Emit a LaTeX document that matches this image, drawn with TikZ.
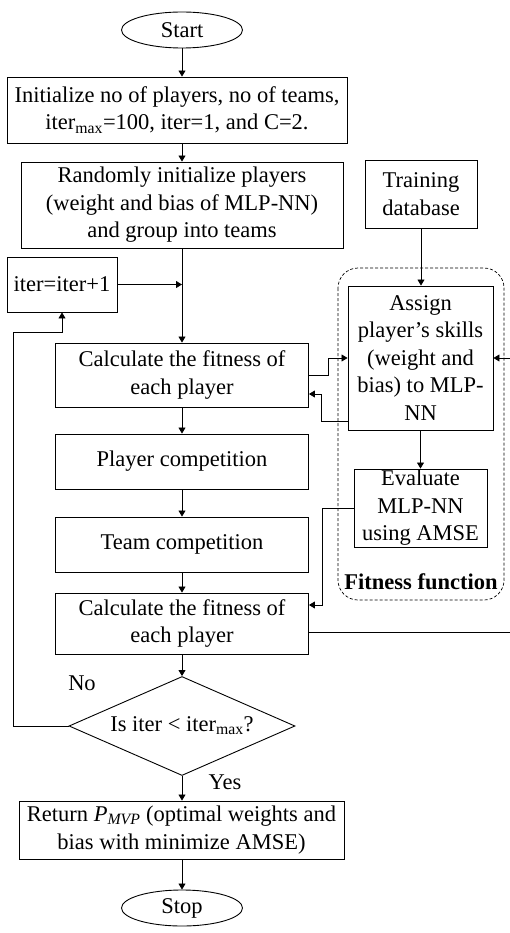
\documentclass[tikz,border=0pt]{standalone}
\usepackage{fontspec}
\setmainfont{Liberation Serif}
\usetikzlibrary{shapes.geometric,arrows.meta}
\begin{document}
\begin{tikzpicture}[x=1pt,y=-1pt,
  every node/.style={font=\fontsize{22.5}{27.5}\selectfont},
  box/.style={draw,line width=0.9pt,inner sep=0pt,align=center},
  term/.style={draw,ellipse,line width=0.9pt,inner sep=0pt,minimum width=121pt,minimum height=36pt},
  dec/.style={draw,diamond,line width=0.9pt,inner sep=0pt,minimum width=226pt,minimum height=99pt,aspect=2.3},
  arr/.style={line width=0.8pt,-{Triangle[length=6pt,width=7pt]}},
  ln/.style={line width=0.8pt}]
\useasboundingbox (0,0) rectangle (510,933);
% dashed group
\draw[line width=0.7pt,dash pattern=on 3pt off 2pt,rounded corners=20pt] (338,268) rectangle (504,600);
\node (fitlbl) at (421,582) {\textbf{Fitness function}};
% nodes
\node[term] (start) at (182,30) {Start};
\node[box,minimum width=340pt,minimum height=66pt] (init) at (177,110) {Initialize no of players, no of teams,\\iter\textsubscript{max}=100, iter=1, and C=2.};
\node[box,minimum width=322pt,minimum height=86pt] (rand) at (182,205) {Randomly initialize players\\(weight and bias of MLP-NN)\\and group into teams};
\node[box,minimum width=112pt,minimum height=68pt] (train) at (421,194) {Training\\database};
\node[box,minimum width=110pt,minimum height=55pt] (iter) at (62,284.5) {iter=iter+1};
\node[box,minimum width=253pt,minimum height=64pt] (calc1) at (182,375) {Calculate the fitness of\\each player};
\node[box,minimum width=145pt,minimum height=144pt] (assign) at (420.5,358) {Assign\\player’s skills\\(weight and\\bias) to MLP-\\NN};
\node[box,minimum width=253pt,minimum height=55pt] (player) at (182,461.5) {Player competition};
\node[box,minimum width=253pt,minimum height=55pt] (team) at (182,544.5) {Team competition};
\node[box,minimum width=133pt,minimum height=78pt] (eval) at (420.5,508) {Evaluate\\MLP-NN\\using AMSE};
\node[box,minimum width=253pt,minimum height=61pt] (calc2) at (182,623.5) {Calculate the fitness of\\each player};
\node[dec] (dec) at (182,726) {};
\node (dectxt) at (182,726) {Is iter < iter\textsubscript{max}?};
\node[box,minimum width=325pt,minimum height=58pt] (ret) at (181.5,830) {Return \textit{P}\textsubscript{\textit{MVP}} (optimal weights and\\bias with minimize AMSE)};
\node[term] (stop) at (182,908) {Stop};
\node (no) at (82,683) {No};
\node (yes) at (225,782) {Yes};
% edge coordinates
\coordinate (eR1) at (510,632);
\coordinate (eR2) at (510,358);
\coordinate (lp1) at (13,726);
\coordinate (lp2) at (13,332);
\coordinate (lp3) at (62,332);
% main flow
\draw[arr] (start.south) -- (start.south |- init.north);
\draw[arr] (start.south |- init.south) -- (rand.north);
\draw[arr] (rand.south) -- (calc1.north);
\draw[arr] (iter.east) -- (rand.south |- iter.east);
\draw[arr] (calc1.south) -- (player.north);
\draw[arr] (player.south) -- (team.north);
\draw[arr] (team.south) -- (calc2.north);
\draw[arr] (calc2.south) -- (dec.north);
\draw[arr] (dec.south) -- (ret.north -| dec.south);
\draw[arr] (ret.south -| stop.north) -- (stop.north);
% fitness function links
\draw[arr] (train.south) -- (train.south |- assign.north);
\draw[arr] (assign.south) -- (eval.north);
\draw[arr] (calc1.east) -- (328,375) -- (328,358) -- (assign.west);
\draw[arr] (assign.west |- 0,421) -- (321,421) -- (321,394) -- (calc1.east |- 0,394);
\draw[arr] (eval.west) -- (322,508) -- (322,605) -- (calc2.east |- 0,605);
\draw[ln] (calc2.east |- eR1) -- (eR1);
\draw[arr] (eR2) -- (assign.east);
% loop
\draw[arr] (dec.west) -- (lp1) -- (lp2) -- (lp3) -- (iter.south);
\end{tikzpicture}
\end{document}
